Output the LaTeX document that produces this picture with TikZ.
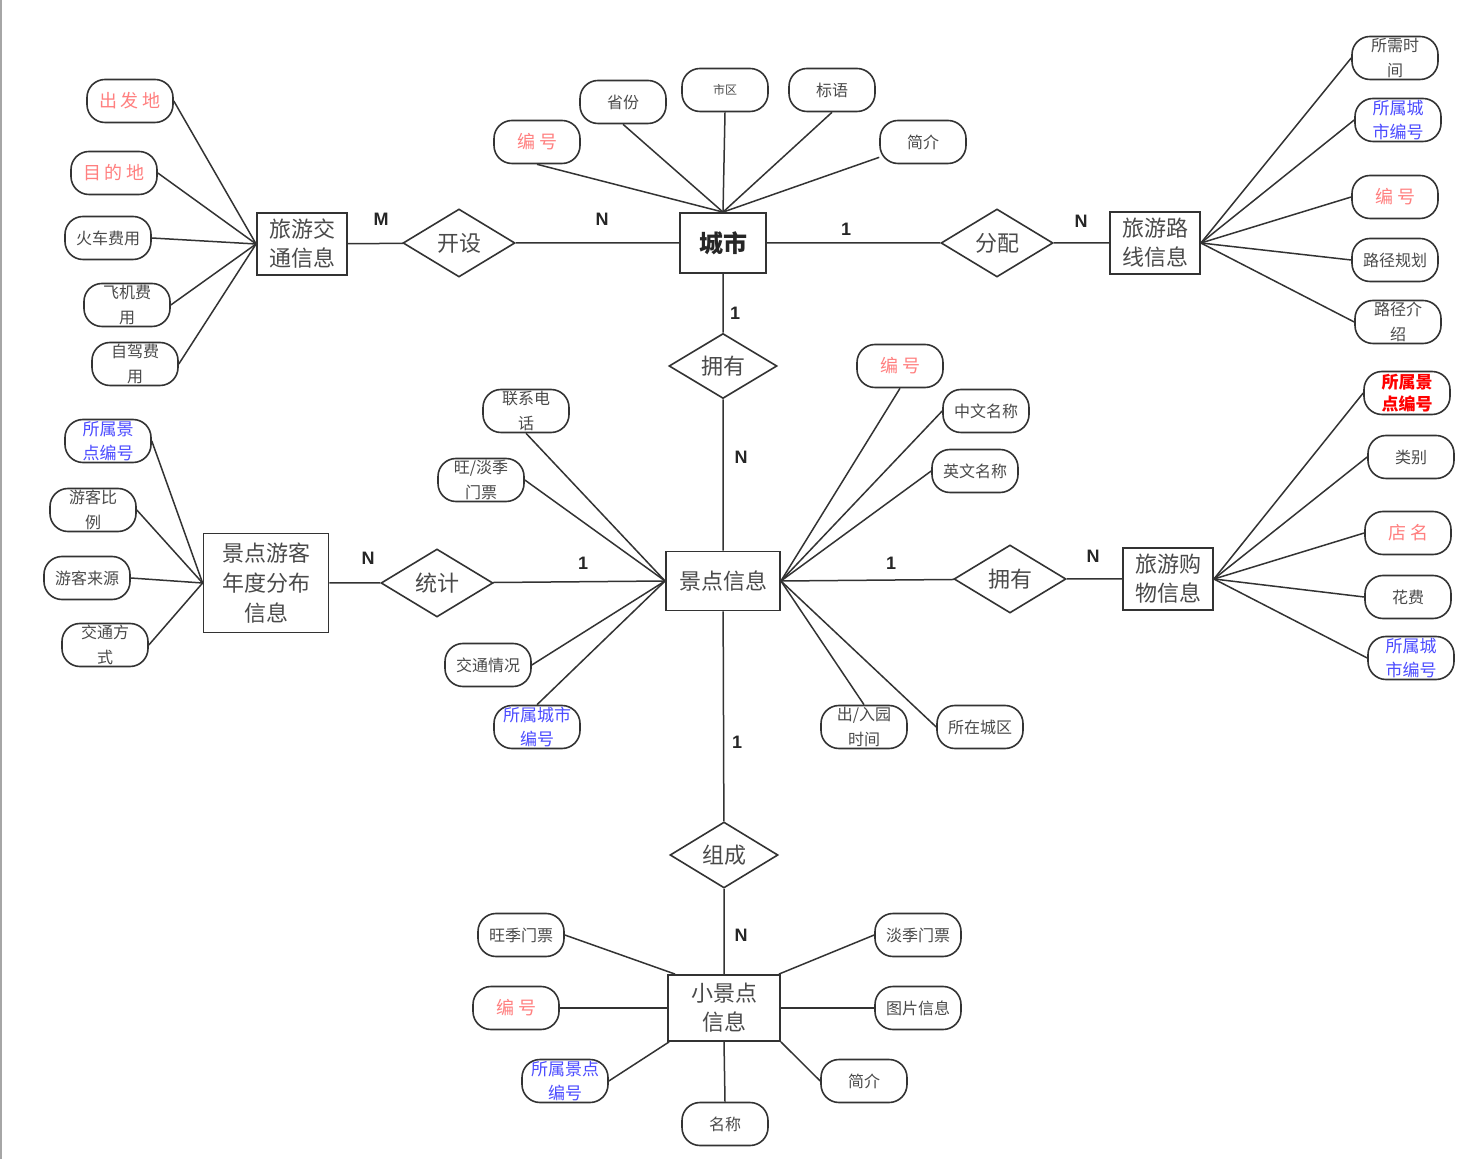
\documentclass[tikz,border=0pt]{standalone}
\usepackage{fontspec}
\setmainfont{Noto Sans CJK SC}
\newfontfamily\cardfont{Liberation Sans}
\usepackage{tikz}
\usetikzlibrary{shapes.geometric}

\definecolor{txtgray}{HTML}{4A4A4A}
\definecolor{linegray}{HTML}{333333}
\definecolor{keypink}{HTML}{FF7F7F}
\definecolor{fkblue}{HTML}{4C4CFF}
\definecolor{fkred}{HTML}{FF0000}

\begin{document}
\begin{tikzpicture}[x=0.5pt, y=-0.5pt,
        entity/.style={rectangle, draw=linegray, line width=0.9pt, fill=white, text=txtgray, align=center, inner sep=0pt, minimum width=45pt, minimum height=31pt, font=\fontsize{11}{14.5}\selectfont},
        relation/.style={diamond, draw=linegray, line width=0.8pt, fill=white, text=txtgray, inner sep=0pt, minimum width=56pt, minimum height=34pt, font=\fontsize{11}{14}\selectfont},
        attr/.style={rectangle, rounded corners=9pt, draw=linegray, line width=0.8pt, fill=white, text=txtgray, align=center, inner sep=0pt, minimum width=43pt, minimum height=21.5pt, font=\fontsize{8}{12.2}\selectfont},
        keyattr/.style={attr, text=keypink, font=\fontsize{9}{11}\selectfont},
        fkattr/.style={attr, text=fkblue, font=\fontsize{8.5}{12}\selectfont},
        card/.style={inner sep=0pt, text=black!85, font=\cardfont\bfseries\fontsize{9}{10}\selectfont},
        link/.style={draw=linegray, line width=0.75pt}
    ]
        \fill[white] (0,0) rectangle (1477,1159);
        \useasboundingbox (0,0) rectangle (1477,1159);
        \draw[gray!70, line width=0.8pt] (1,0) -- (1,1159);

        % entities
        \node[entity, minimum width=43pt, minimum height=30pt, text=black!85, font=\bfseries\fontsize{12}{14}\selectfont] (city) at (723,243) {城市};
        \node[entity] (traffic) at (302,244) {旅游交\\通信息};
        \node[entity] (route) at (1155,243) {旅游路\\线信息};
        \node[entity, minimum width=57pt, minimum height=29.5pt] (spot) at (723,581) {景点信息};
        \node[entity, minimum width=62.5pt, minimum height=49.5pt, font=\fontsize{11}{15}\selectfont] (visitor) at (266,583) {景点游客\\年度分布\\信息};
        \node[entity] (shop) at (1168,579) {旅游购\\物信息};
        \node[entity, minimum width=56pt, minimum height=33pt] (subspot) at (724,1008) {小景点\\信息};

        % relations
        \node[relation] (open) at (459,243) {开设};
        \node[relation] (assign) at (997,243) {分配};
        \node[relation, minimum width=54pt, minimum height=32.5pt] (own1) at (723,366) {拥有};
        \node[relation] (stat) at (437,583) {统计};
        \node[relation] (own2) at (1010,579) {拥有};
        \node[relation, minimum width=54pt, minimum height=33pt] (compose) at (724,855) {组成};

        % city attributes
        \node[keyattr] (cid) at (537,142) {编\kern2pt号};
        \node[attr] (prov) at (623,102) {省份};
        \node[attr, font=\fontsize{6}{8}\selectfont] (dist) at (725,90) {市区};
        \node[attr] (slogan) at (832,90) {标语};
        \node[attr] (cintro) at (923,142) {简介};

        % traffic attributes
        \node[keyattr] (from) at (130,101) {出\kern2pt发\kern2pt地};
        \node[keyattr] (to) at (114,173) {目\kern2pt的\kern2pt地};
        \node[attr] (train) at (108,238) {火车费用};
        \node[attr] (plane) at (127,305) {飞机费\\用};
        \node[attr] (drive) at (135,364) {自驾费\\用};

        % route attributes
        \node[attr] (rtime) at (1395,58) {所需时\\间};
        \node[fkattr] (rcity) at (1398,120) {所属城\\市编号};
        \node[keyattr] (rid) at (1395,197) {编\kern2pt号};
        \node[attr] (rplan) at (1395,260) {路径规划};
        \node[attr] (rintro) at (1398,322) {路径介\\绍};

        % visitor attributes
        \node[fkattr] (vspot) at (108,441) {所属景\\点编号};
        \node[attr] (vratio) at (93,510) {游客比\\例};
        \node[attr] (vsrc) at (87,578) {游客来源};
        \node[attr] (vway) at (105,645) {交通方\\式};

        % spot attributes
        \node[attr] (phone) at (526,411) {联系电\\话};
        \node[attr] (ticket) at (481,480) {旺/淡季\\门票};
        \node[attr] (transit) at (488,665) {交通情况};
        \node[fkattr] (scity) at (537,727) {所属城市\\编号};
        \node[keyattr] (sid) at (900,366) {编\kern2pt号};
        \node[attr] (cnname) at (986,411) {中文名称};
        \node[attr] (enname) at (975,471) {英文名称};
        \node[attr] (hours) at (864,727) {出/入园\\时间};
        \node[attr] (area) at (980,727) {所在城区};

        % shop attributes
        \node[attr, text=fkred, font=\bfseries\fontsize{8.5}{11}\selectfont] (pspot) at (1407,393) {所属景\\点编号};
        \node[attr] (pkind) at (1411,457) {类别};
        \node[keyattr] (pname) at (1408,533) {店\kern2pt名};
        \node[attr] (pcost) at (1408,597) {花费};
        \node[fkattr] (pcity) at (1411,658) {所属城\\市编号};

        % sub spot attributes
        \node[attr] (peak) at (521,935) {旺季门票};
        \node[keyattr] (subid) at (516,1008) {编\kern2pt号};
        \node[fkattr] (subspotid) at (565,1081) {所属景点\\编号};
        \node[attr] (subname) at (725,1124) {名称};
        \node[attr] (subintro) at (864,1081) {简介};
        \node[attr] (pic) at (918,1008) {图片信息};
        \node[attr] (offpeak) at (918,935) {淡季门票};

        % cardinalities
        \node[card] (cM) at (381,219) {M};
        \node[card] (cN1) at (602,219) {N};
        \node[card] (c11) at (846,229) {1};
        \node[card] (cN2) at (1081,221) {N};
        \node[card] (c12) at (735,313) {1};
        \node[card] (cN3) at (741,457) {N};
        \node[card] (cN4) at (368,558) {N};
        \node[card] (c13) at (583,563) {1};
        \node[card] (c14) at (891,563) {1};
        \node[card] (cN5) at (1093,556) {N};
        \node[card] (c15) at (737,742) {1};
        \node[card] (cN6) at (741,935) {N};

        % relationship lines
        \draw[link] (traffic) -- (open) -- (city) -- (assign) -- (route);
        \draw[link] (city) -- (own1) -- (spot) -- (compose) -- (subspot);
        \draw[link] (visitor) -- (stat) -- (spot.west);
        \draw[link] (spot.east) -- (own2) -- (shop);

        % attribute lines
        \foreach \a in {cid,prov,dist,slogan}
            \draw[link] (\a.south) -- (city.north);
        \draw[link] (cintro) -- (city.north);
        \foreach \a in {from,to,train,plane,drive}
            \draw[link] (\a.east) -- (traffic.west);
        \foreach \a in {rtime,rcity,rid,rplan,rintro}
            \draw[link] (\a.west) -- (route.east);
        \foreach \a in {vspot,vratio,vsrc,vway}
            \draw[link] (\a.east) -- (visitor.west);
        \draw[link] (phone.south) -- (spot.west);
        \draw[link] (ticket.east) -- (spot.west);
        \draw[link] (transit.east) -- (spot.west);
        \draw[link] (scity.north) -- (spot.west);
        \draw[link] (sid.south) -- (spot.east);
        \draw[link] (hours.north) -- (spot.east);
        \foreach \a in {cnname,enname,area}
            \draw[link] (\a.west) -- (spot.east);
        \foreach \a in {pspot,pkind,pname,pcost,pcity}
            \draw[link] (\a.west) -- (shop.east);
        \draw[link] (peak.east) -- ([xshift=4pt]subspot.north west);
        \draw[link] (subid.east) -- (subspot.west);
        \draw[link] (subspotid.east) -- ([xshift=1pt]subspot.south west);
        \draw[link] (subname.north) -- (subspot.south);
        \draw[link] (subintro.west) -- (subspot.south east);
        \draw[link] (pic.west) -- (subspot.east);
        \draw[link] (offpeak.west) -- ([xshift=-1pt]subspot.north east);
    \end{tikzpicture}
\end{document}
